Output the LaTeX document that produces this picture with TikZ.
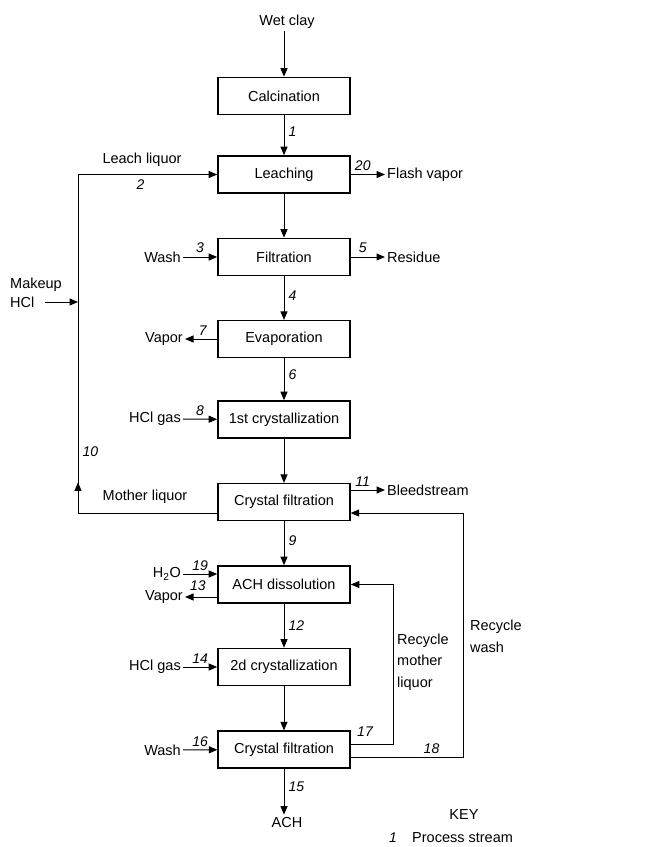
\documentclass[tikz,border=0pt]{standalone}
\usepackage{fontspec}
\setmainfont{Liberation Sans}
\usetikzlibrary{arrows.meta,positioning,calc,decorations.markings}

\begin{document}
\begin{tikzpicture}[x=1pt,y=-1pt,
  unit/.style={draw,line width=1.6pt,minimum width=132pt,minimum height=37pt,
               inner sep=0pt,font=\fontsize{14.5}{17}\selectfont},
  strm/.style={font=\fontsize{14.5}{17}\selectfont,inner sep=2pt},
  num/.style={font=\fontsize{14}{16}\selectfont\itshape,inner sep=1pt},
  arr/.style={-{Triangle[length=8.5pt,width=7pt]},line width=1pt},
  midup/.style={postaction={decorate},decoration={markings,
               mark=at position #1 with {\arrow{Triangle[length=8.5pt,width=7pt]}}}}
]
\useasboundingbox (0,0) rectangle (652,847);

% Process units, stacked at x=284
\node[unit] (calc)    at (284,96)    {Calcination};
\node[unit] (leach)   at (284,174.5) {Leaching};
\node[unit] (filt)    at (284,257)   {Filtration};
\node[unit,line width=1.2pt] (evap) at (284,339) {Evaporation};
\node[unit] (cryst1)  at (284,419.5) {1st crystallization};
\node[unit,line width=1.2pt] (cfilt1) at (284,502) {Crystal filtration};
\node[unit] (dissol)  at (284,584.5) {ACH dissolution};
\node[unit] (cryst2)  at (284,667)   {2d crystallization};
\node[unit,line width=1.2pt] (cfilt2) at (284,749.5) {Crystal filtration};

% Feeds and products
\node[strm] (wet)  at (287,22)  {Wet clay};
\node[strm] (ach)  at (287,822) {ACH};
\node[strm,anchor=east] (wash1) at (183,257) {Wash};
\node[strm,anchor=east] (vap1)  at (185,339) {Vapor};
\node[strm,anchor=east] (hclg1) at (183,419) {HCl gas};
\node[strm,anchor=east] (water) at (183,574) {H\textsubscript{2}O};
\node[strm,anchor=east] (vap2)  at (185,597) {Vapor};
\node[strm,anchor=east] (hclg2) at (183,667) {HCl gas};
\node[strm,anchor=east] (wash2) at (183,750) {Wash};
\node[strm,anchor=west] (flash) at (385,174.5) {Flash vapor};
\node[strm,anchor=west] (resid) at (385,257) {Residue};
\node[strm,anchor=west] (bleed) at (385,490) {Bleedstream};
\node[strm] (mkup) at (36,285) {Makeup};
\node[strm,anchor=west] (mkhcl) at (8,302) {HCl};
\node[strm] (leachliq) at (142,160) {Leach liquor};
\node[strm] (mothliq)  at (145,497) {Mother liquor};
\node[strm,align=left,anchor=west,font=\fontsize{14.5}{21.5}\selectfont] (rml) at (395,662) {Recycle\\mother\\liquor};
\node[strm,align=left,anchor=west,font=\fontsize{14.5}{22}\selectfont] (rw) at (468,636) {Recycle\\wash};

% Key
\node[strm] (key) at (464,815) {KEY};
\node[num] (keynum) at (393,838) {1};
\node[strm,anchor=west] (keytxt) at (410,838) {Process stream};

% Main line
\draw[arr] (calc |- wet.south) -- (calc);
\draw[arr] (calc)   -- node[num,right=3pt,pos=0.4] {1} (leach);
\draw[arr] (leach)  -- (filt);
\draw[arr] (filt)   -- node[num,right=3pt,pos=0.45] {4} (evap);
\draw[arr] (evap)   -- node[num,right=3pt,pos=0.4] {6} (cryst1);
\draw[arr] (cryst1) -- (cfilt1);
\draw[arr] (cfilt1) -- node[num,right=3pt,pos=0.45] {9} (dissol);
\draw[arr] (dissol) -- node[num,right=3pt,pos=0.5] {12} (cryst2);
\draw[arr] (cryst2) -- (cfilt2);
\draw[arr] (cfilt2) -- node[num,right=3pt,pos=0.4] {15} (cfilt2 |- ach.north);

% Side streams
\draw[arr] (leach) -- node[num,above=2pt,pos=0.35] {20} (flash);
\draw[arr] (wash1) -- node[num,above=3pt] {3} (filt);
\draw[arr] (filt)  -- node[num,above=3pt,pos=0.35] {5} (resid);
\draw[arr] (evap)  -- node[num,above=2pt,pos=0.45] {7} (vap1);
\draw[arr] (hclg1) -- node[num,above=2pt] {8} (cryst1);
\draw[arr] ([yshift=12pt]cfilt1.east) -- node[num,above=2pt,pos=0.35] {11} (bleed);
\draw[arr] (water.east) -- node[num,above=2pt] {19} (water.east -| dissol.west);
\draw[arr] (vap2.east -| dissol.west) -- node[num,above=5pt,pos=0.6] {13} (vap2.east);
\draw[arr] (hclg2) -- node[num,above=2pt] {14} (cryst2);
\draw[arr] (wash2) -- node[num,above=2pt] {16} (cfilt2);

% Mother liquor recycle to leaching
\coordinate (loopx) at (78,0);
\coordinate (mlout) at ([yshift=-11pt]cfilt1.west);
\draw[arr,midup=170pt] (mlout) -| node[num,pos=0.59,right=3pt] {10}
      (loopx |- leach.west) -- node[num,below=4pt,pos=0.45] {2} (leach.west);
\draw[arr,shorten <=8pt] (mkhcl.east) -- (mkhcl.east -| loopx);

% Recycles from second crystal filtration
\coordinate (rmlx) at (393,0);
\coordinate (rwx)  at (463,0);
\coordinate (cf1in) at ([yshift=-11pt]cfilt1.east);
\draw[arr] ([yshift=5.5pt]cfilt2.east) -| node[num,above=6pt,pos=0.17] {17}
      (rmlx |- dissol.east) -- (dissol.east);
\draw[arr] ([yshift=-7.5pt]cfilt2.east) -| node[num,above=2pt,pos=0.36] {18}
      (rwx |- cf1in) -- (cf1in);
\end{tikzpicture}
\end{document}
